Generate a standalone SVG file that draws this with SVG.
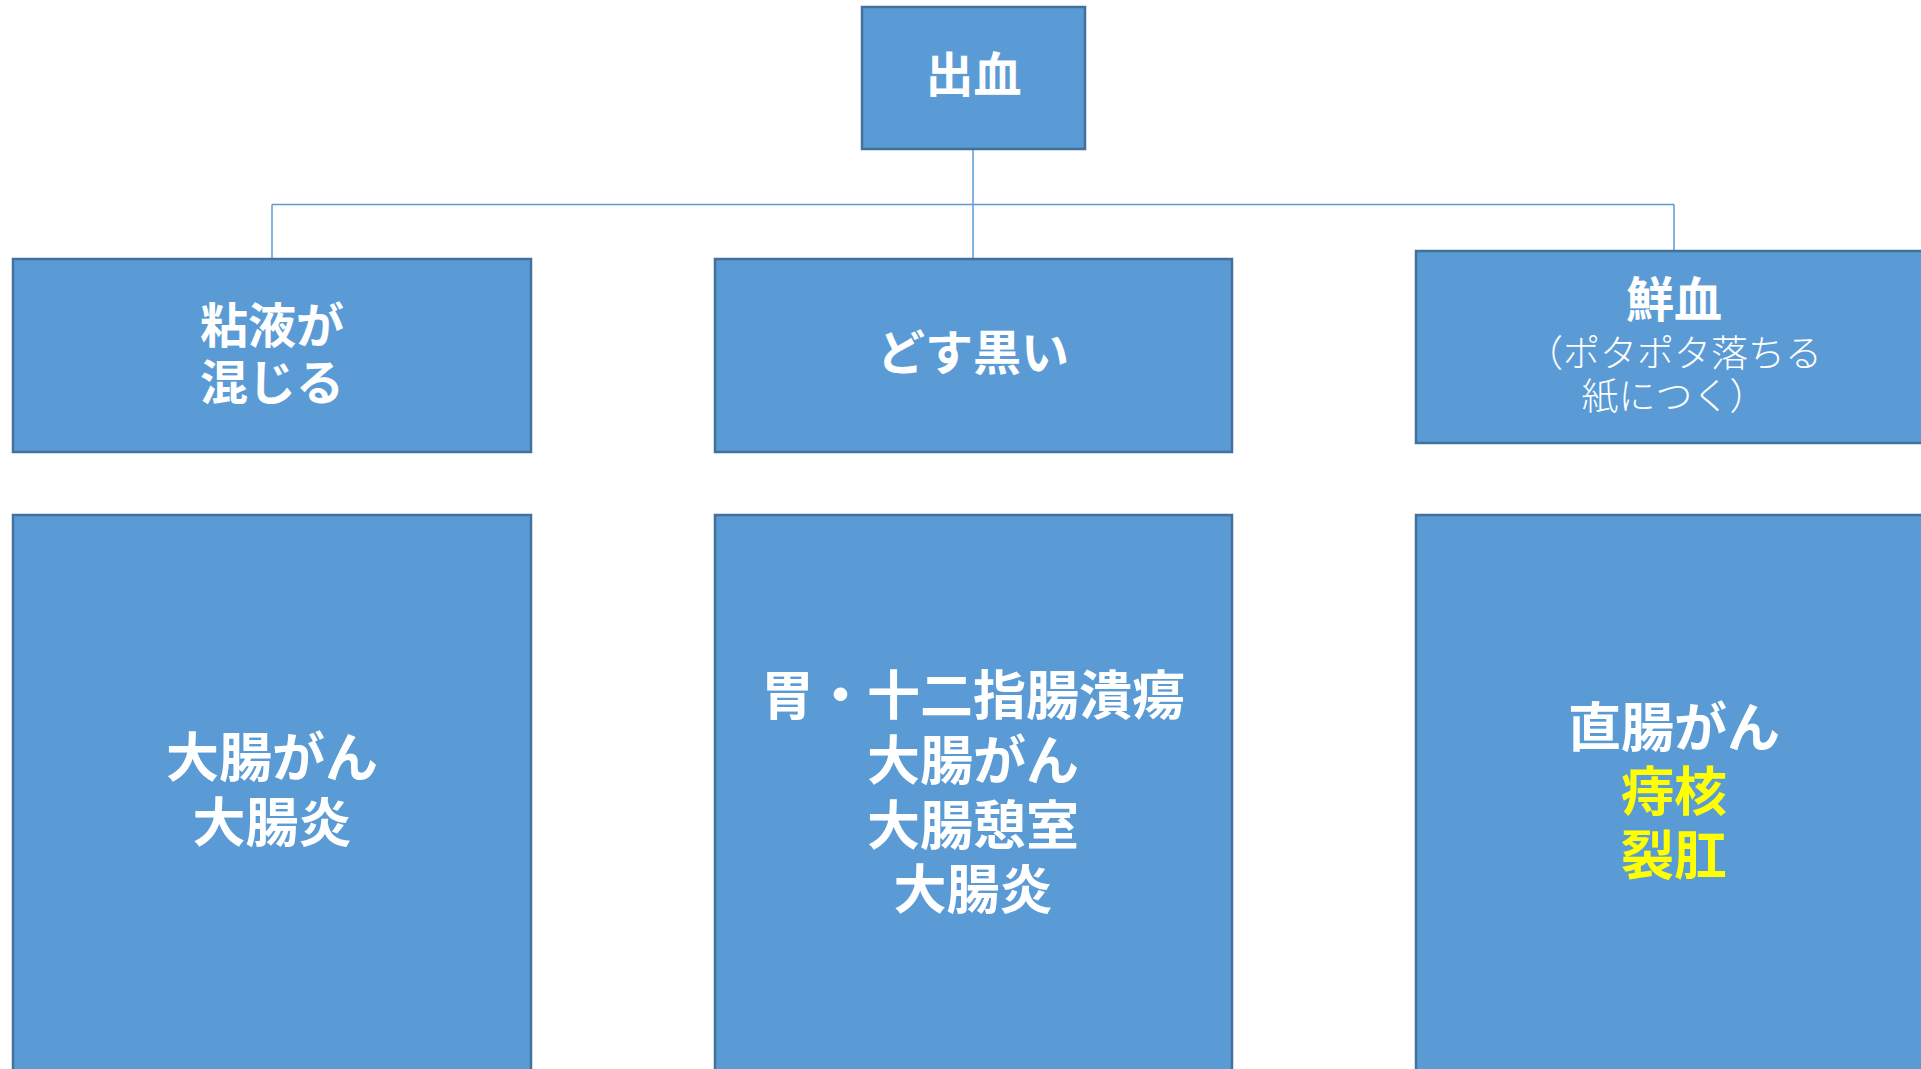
<svg xmlns="http://www.w3.org/2000/svg" width="1921" height="1069" viewBox="0 0 1921 1069">
<style>
.box{fill:#5B9BD5;stroke:#41719C;stroke-width:2.5}
.t{font-family:"Noto Sans CJK JP","Noto Sans CJK SC",sans-serif;fill:#FFFFFF;text-anchor:middle;font-weight:bold}
.m{font-size:48px}
.b{font-size:53px}
.s{font-size:37px;font-weight:300}
.y{fill:#FFFF00}
.c{fill:none;stroke:#5B9BD5;stroke-width:1.5}
</style>
<rect width="1921" height="1069" fill="#FFFFFF"/>
<g id="connectors">
<path class="c" d="M973,149 V259"/>
<path class="c" d="M272,204.5 H1674"/>
<path class="c" d="M272,204.5 V259"/>
<path class="c" d="M1674,204.5 V250"/>
</g>
<g id="n-top">
<rect class="box" x="862" y="7" width="223" height="142"/>
<text class="t m" x="973.5" y="92">出血</text>
</g>
<g id="n-mucus">
<rect class="box" x="13" y="259" width="518" height="193"/>
<text class="t m" x="272" y="343">粘液が</text>
<text class="t m" x="272" y="400">混じる</text>
</g>
<g id="n-black">
<rect class="box" x="715" y="259" width="517" height="193"/>
<text class="t m" x="973" y="370">どす黒い</text>
</g>
<g id="n-fresh">
<rect class="box" x="1416" y="251" width="517" height="192"/>
<text class="t m" x="1674" y="317">鮮血</text>
<text class="t s" x="1674" y="367">（ポタポタ落ちる</text>
<text class="t s" x="1674" y="410">紙につく）</text>
</g>
<g id="n-left-result">
<rect class="box" x="13" y="515" width="518" height="565"/>
<text class="t b" x="272" y="777">大腸がん</text>
<text class="t b" x="272" y="842">大腸炎</text>
</g>
<g id="n-center-result">
<rect class="box" x="715" y="515" width="517" height="565"/>
<text class="t b" x="973" y="715">胃・十二指腸潰瘍</text>
<text class="t b" x="973" y="780">大腸がん</text>
<text class="t b" x="973" y="845">大腸憩室</text>
<text class="t b" x="973" y="909">大腸炎</text>
</g>
<g id="n-right-result">
<rect class="box" x="1416" y="515" width="517" height="565"/>
<text class="t b" x="1674" y="747">直腸がん</text>
<text class="t b y" x="1674" y="811">痔核</text>
<text class="t b y" x="1674" y="875">裂肛</text>
</g>
</svg>
